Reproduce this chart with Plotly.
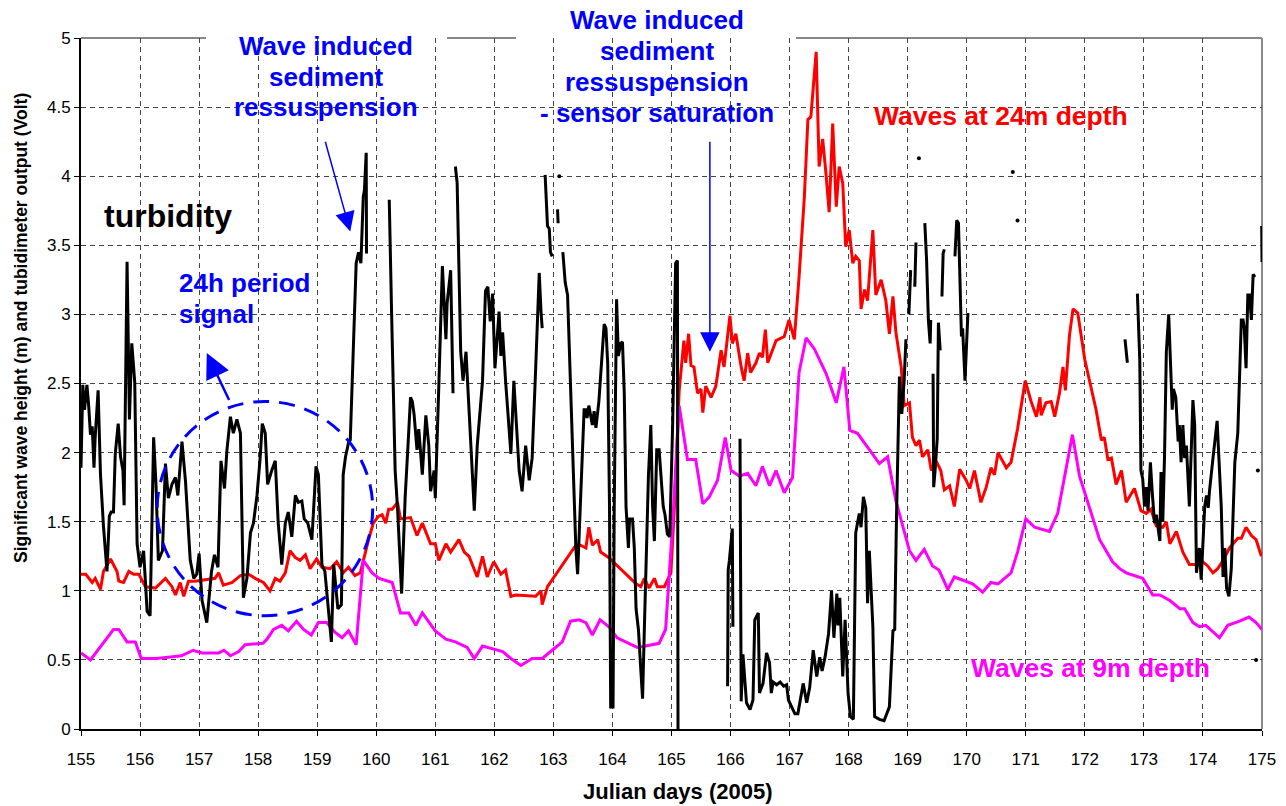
import plotly.graph_objects as go

# ---------------- data ----------------
wave9_day = [155.0, 155.16, 155.55, 155.64, 155.78, 155.92, 156.02, 156.26, 156.48, 156.7,
             156.9, 157.05, 157.33, 157.42, 157.53, 157.67, 157.78, 158.0, 158.08, 158.15,
             158.26, 158.4, 158.51, 158.65, 158.77, 158.9, 159.02, 159.16, 159.3, 159.42,
             159.53, 159.66, 159.78, 159.93, 160.05, 160.27, 160.41, 160.55, 160.67, 160.78,
             161.0, 161.18, 161.34, 161.54, 161.66, 161.8, 162.14, 162.28, 162.45, 162.64,
             162.81, 162.98, 163.15, 163.29, 163.44, 163.55, 163.66, 163.79, 163.94, 164.08,
             164.23, 164.42, 164.56, 164.79, 164.9, 165.02, 165.13, 165.27, 165.41, 165.53,
             165.64, 165.78, 165.91, 166.01, 166.15, 166.29, 166.43, 166.54, 166.66, 166.77,
             166.91, 167.05, 167.16, 167.28, 167.42, 167.62, 167.79, 167.92, 168.02, 168.15,
             168.32, 168.52, 168.66, 168.8, 169.03, 169.14, 169.28, 169.42, 169.53, 169.68,
             169.79, 170.1, 170.27, 170.41, 170.53, 170.75, 170.86, 171.0, 171.15, 171.4,
             171.54, 171.66, 171.79, 171.91, 172.05, 172.25, 172.47, 172.59, 172.7, 172.98,
             173.15, 173.27, 173.44, 173.61, 173.69, 173.83, 173.94, 174.05, 174.28, 174.42,
             174.62, 174.78, 174.9, 175.0]
wave9_m = [0.55, 0.50, 0.72, 0.72, 0.63, 0.63, 0.51, 0.51, 0.52, 0.53,
           0.57, 0.55, 0.55, 0.57, 0.53, 0.56, 0.61, 0.62, 0.62, 0.65,
           0.72, 0.75, 0.71, 0.78, 0.72, 0.68, 0.77, 0.77, 0.70, 0.66,
           0.71, 0.61, 1.22, 1.13, 1.09, 1.06, 0.84, 0.84, 0.75, 0.84,
           0.71, 0.65, 0.63, 0.59, 0.51, 0.60, 0.56, 0.51, 0.46, 0.51,
           0.51, 0.57, 0.63, 0.78, 0.79, 0.77, 0.68, 0.79, 0.74, 0.66,
           0.63, 0.59, 0.60, 0.62, 0.72, 1.49, 2.34, 1.95, 1.95, 1.63,
           1.68, 1.80, 2.11, 1.87, 1.83, 1.85, 1.76, 1.90, 1.76, 1.87,
           1.71, 1.82, 2.58, 2.83, 2.75, 2.57, 2.36, 2.62, 2.16, 2.14,
           2.04, 1.92, 1.97, 1.65, 1.29, 1.22, 1.30, 1.18, 1.15, 1.01,
           1.10, 1.05, 0.99, 1.06, 1.05, 1.13, 1.28, 1.52, 1.46, 1.43,
           1.56, 1.84, 2.13, 1.83, 1.64, 1.37, 1.21, 1.16, 1.13, 1.09,
           0.97, 0.97, 0.93, 0.87, 0.87, 0.77, 0.74, 0.75, 0.66, 0.75,
           0.78, 0.81, 0.77, 0.72]

wave24_day = [155.0, 155.08, 155.19, 155.24, 155.33, 155.38, 155.5, 155.61, 155.64, 155.72,
              155.81, 155.89, 155.98, 156.09, 156.26, 156.43, 156.54, 156.6, 156.68, 156.74,
              156.82, 156.93, 157.1, 157.27, 157.33, 157.41, 157.56, 157.7, 157.84, 157.95,
              158.09, 158.2, 158.29, 158.37, 158.46, 158.54, 158.63, 158.71, 158.8, 158.88,
              158.99, 159.08, 159.22, 159.33, 159.44, 159.53, 159.64, 159.73, 159.87, 159.95,
              160.04, 160.1, 160.16, 160.21, 160.27, 160.36, 160.41, 160.58, 160.69, 160.78,
              160.92, 161.0, 161.06, 161.18, 161.26, 161.4, 161.49, 161.57, 161.71, 161.8,
              161.88, 161.99, 162.11, 162.19, 162.28, 162.36, 162.7, 162.79, 162.81, 162.9,
              163.38, 163.46, 163.55, 163.6, 163.66, 163.75, 163.8, 163.94, 164.4, 164.48,
              164.54, 164.62, 164.71, 164.76, 164.88, 164.99, 165.05, 165.13, 165.21, 165.24,
              165.29, 165.33, 165.38, 165.44, 165.5, 165.53, 165.58, 165.67, 165.75, 165.84,
              165.89, 165.99, 166.03, 166.09, 166.18, 166.23, 166.29, 166.34, 166.43, 166.49,
              166.54, 166.59, 166.63, 166.77, 166.91, 166.99, 167.08, 167.16, 167.25, 167.31,
              167.36, 167.45, 167.5, 167.56, 167.62, 167.67, 167.73, 167.79, 167.84, 167.9,
              167.95, 168.01, 168.07, 168.12, 168.18, 168.21, 168.27, 168.32, 168.41, 168.46,
              168.55, 168.63, 168.69, 168.75, 168.8, 168.89, 168.94, 169.03, 169.08, 169.14,
              169.2, 169.25, 169.34, 169.4, 169.48, 169.56, 169.62, 169.71, 169.79, 169.88,
              169.99, 170.05, 170.13, 170.24, 170.33, 170.41, 170.47, 170.53, 170.58, 170.67,
              170.75, 170.86, 170.99, 171.09, 171.18, 171.24, 171.26, 171.34, 171.43, 171.49,
              171.57, 171.63, 171.67, 171.74, 171.8, 171.88, 172.0, 172.14, 172.19, 172.28,
              172.33, 172.39, 172.45, 172.53, 172.62, 172.7, 172.76, 172.84, 172.95, 173.04,
              173.12, 173.21, 173.32, 173.38, 173.44, 173.55, 173.66, 173.77, 173.89, 173.97,
              174.08, 174.17, 174.25, 174.34, 174.45, 174.51, 174.59, 174.65, 174.73, 174.82,
              174.9, 174.99]
wave24_m = [1.12, 1.12, 1.06, 1.09, 1.01, 1.14, 1.23, 1.14, 1.07, 1.06,
            1.14, 1.12, 1.12, 1.03, 1.02, 1.09, 1.03, 0.97, 1.06, 0.96,
            1.07, 1.07, 1.08, 1.09, 1.13, 1.04, 1.06, 1.11, 1.12, 1.09,
            1.06, 1.00, 1.09, 1.07, 1.13, 1.29, 1.24, 1.22, 1.26, 1.16,
            1.23, 1.17, 1.16, 1.21, 1.13, 1.17, 1.11, 1.13, 1.37, 1.49,
            1.54, 1.55, 1.49, 1.59, 1.59, 1.64, 1.52, 1.53, 1.40, 1.49,
            1.34, 1.34, 1.22, 1.34, 1.28, 1.37, 1.28, 1.25, 1.10, 1.25,
            1.10, 1.21, 1.12, 1.15, 0.96, 0.97, 0.96, 1.00, 0.90, 1.03,
            1.33, 1.33, 1.31, 1.46, 1.33, 1.37, 1.28, 1.24, 1.05, 1.03,
            1.09, 1.02, 1.09, 1.03, 1.03, 1.13, 1.61, 2.45, 2.81, 2.65,
            2.86, 2.63, 2.62, 2.43, 2.46, 2.29, 2.48, 2.40, 2.48, 2.74,
            2.62, 2.99, 2.79, 2.86, 2.62, 2.52, 2.72, 2.58, 2.65, 2.72,
            2.69, 2.89, 2.65, 2.81, 2.84, 2.96, 2.82, 3.27, 3.85, 4.41,
            4.43, 4.90, 4.07, 4.27, 4.00, 3.74, 4.38, 3.78, 4.07, 3.95,
            3.49, 3.61, 3.37, 3.42, 3.39, 3.04, 3.18, 3.10, 3.61, 3.14,
            3.25, 3.10, 2.86, 3.13, 2.87, 2.62, 2.34, 2.36, 2.11, 2.05,
            2.09, 1.97, 2.02, 1.87, 1.94, 1.87, 1.73, 1.76, 1.61, 1.88,
            1.80, 1.74, 1.87, 1.64, 1.75, 1.89, 1.84, 2.00, 1.96, 1.89,
            1.93, 2.17, 2.52, 2.37, 2.26, 2.40, 2.27, 2.36, 2.37, 2.26,
            2.43, 2.62, 2.45, 2.85, 3.04, 3.01, 2.67, 2.40, 2.31, 2.09,
            2.11, 1.95, 1.96, 1.77, 1.87, 1.64, 1.68, 1.74, 1.58, 1.56,
            1.59, 1.47, 1.46, 1.50, 1.34, 1.43, 1.28, 1.19, 1.19, 1.22,
            1.18, 1.13, 1.16, 1.22, 1.31, 1.34, 1.38, 1.38, 1.46, 1.40,
            1.37, 1.25]

# turbidimeter output (Volt); None marks missing data
turb_day = [155.0, 155.03, 155.06, 155.1, 155.13, 155.16, 155.19, 155.22, 155.24, 155.29,
            155.33, 155.38, 155.44, 155.48, 155.51, 155.55, 155.58, 155.63, 155.67, 155.71,
            155.73, 155.78, 155.82, 155.86, 155.91, 155.95, 156.0, 156.06, 156.12, 156.17,
            156.23, 156.27, 156.31, 156.38, 156.43, 156.48, 156.54, 156.6, 156.64, 156.71,
            156.77, 156.85, 156.91, 156.96, 157.0, 157.05, 157.13, 157.21, 157.26, 157.32,
            157.37, 157.43, 157.47, 157.53, 157.58, 157.64, 157.7, 157.75, 157.81, 157.87,
            157.92, 157.98, 158.03, 158.07, 158.12, 158.16, 158.23, 158.29, 158.34, 158.4,
            158.46, 158.51, 158.57, 158.63, 158.68, 158.74, 158.78, 158.84, 158.91, 158.98,
            159.02, 159.08, 159.13, 159.18, 159.24, 159.28, 159.35, 159.41, 159.44, 159.48,
            159.53, 159.56, 159.61, 159.66, 159.7, 159.74, 159.78, 159.8, 159.83, 159.835, None,
            160.22, 160.24, 160.26, 160.32, 160.36, 160.43, 160.49, 160.54, 160.58, 160.61,
            160.64, 160.69, 160.72, 160.78, 160.84, 160.89, 160.92, 160.98, 161.0, 161.06,
            161.12, 161.18, 161.2, 161.26, 161.3, None,
            161.34, 161.37, 161.43, 161.47, 161.52, 161.57, 161.63, 161.66, 161.71, 161.8,
            161.85, 161.89, 161.93, 161.97, 162.01, 162.05, 162.08, 162.11, 162.14, 162.19,
            162.28, 162.33, 162.39, 162.42, 162.47, 162.53, 162.59, 162.64, 162.7, 162.76,
            162.79, 162.81, None,
            162.86, 162.9, 162.93, 162.95, 162.98, None,
            163.07, 163.08, None,
            163.16, 163.2, 163.24, 163.28, 163.32, 163.38, 163.41, 163.46, 163.52, 163.55,
            163.57, 163.6, 163.66, 163.69, 163.72, 163.77, 163.82, 163.86, 163.89, 163.92,
            163.95, 163.97, 164.01, 164.03, 164.07, 164.1, 164.14, 164.17, 164.2, 164.23,
            164.27, 164.29, 164.34, 164.37, 164.4, 164.44, 164.48, 164.51, 164.54, 164.58,
            164.61, 164.65, 164.68, 164.71, 164.75, 164.79, 164.82, 164.86, 164.89, 164.93,
            164.97, 165.02, 165.07, 165.1, 165.11, None,
            165.95, 165.96, 165.98, 166.03, 166.04, None,
            166.16, 166.18, 166.21, 166.27, 166.33, 166.38, 166.41, 166.47, 166.49, 166.55,
            166.61, 166.66, 166.69, 166.72, 166.78, 166.84, 166.9, 166.95, 166.98, 167.03,
            167.09, 167.14, 167.23, 167.29, 167.34, 167.4, 167.46, 167.51, 167.55, 167.6,
            167.66, 167.71, 167.75, 167.8, 167.82, 167.85, 167.9, 167.94, 167.96, 167.99,
            168.03, 168.08, 168.12, 168.15, 168.18, 168.21, 168.25, 168.29, 168.32, 168.35,
            168.38, 168.41, 168.44, 168.52, 168.6, 168.69, 168.75, 168.78, 168.81, 168.86,
            168.9, 168.94, 168.97, None,
            169.02, 169.05, None,
            169.12, 169.14, None,
            169.29, 169.32, 169.35, 169.38, 169.39, None,
            169.43, 169.44, 169.46, 169.5, 169.52, 169.55, None,
            169.58, 169.6, 169.62, None,
            169.8, 169.83, 169.86, 169.91, 169.93, 169.97, 170.02, None,
            172.68, 172.72, None,
            172.89, 172.93, 172.95, 172.98, 173.01, 173.04, 173.07, 173.11, 173.14, 173.18,
            173.21, 173.24, 173.27, 173.29, 173.32, 173.35, 173.38, 173.42, 173.45, 173.48,
            173.5, 173.54, 173.58, 173.6, 173.63, 173.66, 173.69, 173.72, 173.77, 173.83,
            173.86, 173.89, 173.94, 173.97, 174.03, 174.06, 174.09, 174.11, 174.17, 174.2,
            174.24, 174.27, 174.31, 174.34, 174.37, 174.4, 174.44, 174.48, 174.54, 174.59,
            174.62, 174.65, 174.68, 174.7, 174.73, 174.76, 174.79, 174.82, 174.85, 174.88, None,
            174.995, 175.0]
turb_volt = [1.89, 2.49, 2.31, 2.49, 2.34, 2.13, 2.19, 1.89, 2.11, 2.45,
             1.84, 1.47, 1.14, 1.54, 1.57, 1.57, 1.99, 2.21, 1.97, 1.87,
             1.62, 3.38, 2.24, 2.79, 2.51, 1.34, 1.17, 1.29, 0.85, 0.82,
             2.11, 1.77, 1.22, 1.29, 1.92, 1.67, 1.77, 1.82, 1.69, 2.08,
             1.79, 1.22, 1.09, 1.12, 1.27, 0.93, 0.77, 1.14, 1.26, 1.17,
             1.94, 1.74, 2.01, 2.26, 2.14, 2.24, 2.14, 0.95, 1.09, 1.42,
             1.49, 1.69, 1.94, 2.21, 2.14, 1.77, 1.87, 1.94, 1.49, 1.19,
             1.49, 1.57, 1.39, 1.69, 1.64, 1.65, 1.52, 1.49, 1.37, 1.90,
             1.84, 1.19, 1.14, 0.90, 0.63, 1.19, 0.87, 0.90, 1.84, 1.97,
             2.07, 2.09, 2.77, 3.37, 3.45, 3.37, 3.85, 3.90, 4.17, 3.44, None,
             3.83, 3.32, 3.01, 1.87, 1.60, 0.98, 1.68, 2.07, 2.40, 2.37,
             2.28, 2.02, 2.17, 1.84, 2.27, 2.05, 1.72, 1.87, 1.67, 2.49,
             3.35, 2.82, 3.08, 3.32, 2.43, None,
             4.07, 3.95, 2.73, 2.52, 2.73, 2.28, 1.75, 1.58, 2.05, 2.52,
             3.17, 3.20, 2.95, 3.15, 2.61, 2.82, 3.02, 2.70, 2.87, 2.52,
             1.99, 2.52, 2.14, 1.87, 1.72, 2.05, 1.80, 1.96, 2.61, 3.30,
             3.02, 2.90, None,
             4.01, 3.64, 3.62, 3.45, 3.42, None,
             3.76, 3.66, None,
             3.45, 3.23, 3.14, 2.64, 1.99, 1.31, 1.12, 1.61, 2.31, 2.31,
             2.25, 2.34, 2.20, 2.30, 2.18, 2.37, 2.70, 2.93, 2.90, 2.64,
             1.61, 0.16, 0.16, 1.61, 3.11, 2.70, 2.79, 2.80, 2.43, 1.61,
             1.31, 1.52, 1.52, 1.31, 0.87, 0.72, 0.43, 0.22, 0.72, 1.46,
             1.84, 2.20, 1.61, 1.36, 2.02, 2.02, 1.84, 1.61, 1.55, 1.41,
             1.39, 2.21, 3.37, 3.39, 0.0, None,
             0.31, 1.15, 1.22, 1.45, 0.74, None,
             2.10, 0.20, 0.54, 0.19, 0.14, 0.21, 0.79, 0.84, 0.26, 0.33,
             0.55, 0.48, 0.26, 0.34, 0.32, 0.34, 0.31, 0.32, 0.21, 0.16,
             0.11, 0.11, 0.33, 0.19, 0.30, 0.57, 0.38, 0.52, 0.42, 0.52,
             0.69, 1.00, 0.66, 0.98, 0.75, 0.95, 0.38, 0.79, 0.60, 0.26,
             0.09, 0.07, 1.42, 1.49, 1.56, 1.46, 1.68, 1.60, 0.91, 1.29,
             1.01, 0.74, 0.09, 0.07, 0.06, 0.16, 0.71, 0.72, 1.53, 2.55,
             2.28, 2.52, 2.82, None,
             3.00, 3.32, None,
             3.20, 3.52, None,
             3.66, 3.39, 2.96, 2.79, 2.96, None,
             2.57, 1.75, 1.85, 2.10, 2.94, 2.74, None,
             3.13, 3.44, 3.47, None,
             3.42, 3.68, 3.66, 2.84, 2.90, 2.52, 3.01, None,
             2.82, 2.65, None,
             3.15, 2.67, 1.87, 1.81, 1.61, 1.75, 1.58, 1.93, 1.72, 1.49,
             1.55, 1.46, 1.36, 1.86, 1.50, 1.99, 2.73, 3.00, 2.64, 2.31,
             2.46, 2.40, 2.08, 2.20, 1.93, 2.20, 1.96, 2.05, 1.61, 2.38,
             2.20, 1.13, 1.31, 1.08, 1.61, 1.69, 1.60, 1.72, 1.96, 2.08,
             2.23, 1.96, 1.61, 1.10, 1.31, 1.02, 0.96, 1.16, 1.93, 2.14,
             2.52, 2.96, 2.96, 2.90, 2.61, 3.14, 3.14, 2.96, 3.29, 3.27, None,
             3.64, 3.38]

# isolated single turbidity readings
turb_dot_day = [163.10, 169.19, 170.78, 170.86, 174.93, 174.90]
turb_dot_volt = [4.00, 4.13, 4.03, 3.68, 1.87, 0.50]

x_ticks = list(range(155, 176))
x_tick_labels = [str(d) for d in x_ticks]

# ---------------- figure ----------------
FONT = "Liberation Sans, Arial, sans-serif"
L, R, T, B = 81, 1262, 38, 729
W, H = 1286, 806


def pxx(p):
    return (p - L) / (R - L)


def pxy(p):
    return (B - p) / (B - T)


fig = go.Figure()
fig.add_trace(go.Scatter(x=wave24_day, y=wave24_m, mode="lines",
                         line=dict(color="#FF0000", width=3), name="Waves at 24m depth"))
fig.add_trace(go.Scatter(x=wave9_day, y=wave9_m, mode="lines",
                         line=dict(color="#FF00FF", width=3), name="Waves at 9m depth"))
fig.add_trace(go.Scatter(x=turb_day, y=turb_volt, mode="lines", connectgaps=False,
                         line=dict(color="#000000", width=3), name="turbidity"))
fig.add_trace(go.Scatter(x=turb_dot_day, y=turb_dot_volt, mode="markers",
                         marker=dict(color="#000000", size=4), name="turbidity (single)"))


def mask(x0, x1, y0, y1):
    return dict(type="rect", xref="paper", yref="paper", x0=pxx(x0), x1=pxx(x1),
                y0=pxy(y1), y1=pxy(y0), fillcolor="white", line=dict(width=0),
                layer="between")


shapes = [
    # grey top / right frame
    dict(type="line", xref="paper", yref="paper", x0=0, x1=1, y0=1, y1=1,
         line=dict(color="#888888", width=2), layer="between"),
    dict(type="line", xref="paper", yref="paper", x0=1, x1=1, y0=0, y1=1,
         line=dict(color="#888888", width=2), layer="between"),
    # white text boxes (hide grid and frame only)
    mask(206, 447, 28, 130),
    mask(516, 796, 28, 136),
    mask(850, 1158, 90, 137),
    mask(966, 1212, 645, 692),
    mask(100, 343, 262, 343),
    # dashed ellipse
    dict(type="circle", xref="x", yref="y", x0=156.29, x1=159.94, y0=0.82, y1=2.37,
         line=dict(color="#0000FF", width=3, dash="16px,10px"), layer="above"),
]

blue = "#0000FF"
ann = []


def label(text, x, y, size, color, xanchor="center"):
    ann.append(dict(text="<b>%s</b>" % text, xref="paper", yref="paper", x=pxx(x), y=pxy(y),
                    xanchor=xanchor, yanchor="middle", showarrow=False,
                    font=dict(family=FONT, size=size, color=color)))


for t, yy in zip(["Wave induced", "sediment", "ressuspension"], [46, 77, 107]):
    label(t, 326, yy, 26, blue)
for t, yy in zip(["Wave induced", "sediment", "ressuspension", "- sensor saturation"],
                 [20, 51, 82, 113]):
    label(t, 657, yy, 26, blue)
label("Waves at 24m depth", 1001, 116, 26.5, "#FF0000")
label("Waves at 9m depth", 1090, 668, 26.5, "#FF00FF")
label("turbidity", 168, 216, 32, "black")
label("24h period", 177, 283, 26, blue, xanchor="left")
label("signal", 177, 314, 26, blue, xanchor="left")

# arrows
ann += [
    dict(text="", x=157.13, y=2.72, ax=157.52, ay=2.37, xref="x", yref="y", axref="x", ayref="y",
         showarrow=True, arrowhead=2, arrowsize=2.0, arrowwidth=2.5, arrowcolor=blue),
    dict(text="", x=159.56, y=3.60, ax=159.13, ay=4.26, xref="x", yref="y", axref="x", ayref="y",
         showarrow=True, arrowhead=2, arrowsize=2.6, arrowwidth=1.5, arrowcolor=blue),
    dict(text="", x=165.65, y=2.73, ax=165.65, ay=4.26, xref="x", yref="y", axref="x", ayref="y",
         showarrow=True, arrowhead=2, arrowsize=2.6, arrowwidth=1.5, arrowcolor=blue),
    # axis titles
    dict(text="<b>Significant wave height (m) and tubidimeter output (Volt)</b>",
         xref="paper", yref="paper", x=pxx(21), y=pxy(328), xanchor="center", yanchor="middle",
         textangle=-90, showarrow=False, font=dict(family=FONT, size=17.5, color="black")),
    dict(text="<b>Julian days (2005)</b>", xref="paper", yref="paper", x=pxx(678), y=pxy(792),
         xanchor="center", yanchor="middle", showarrow=False,
         font=dict(family=FONT, size=22, color="black")),
]

fig.update_layout(
    width=W, height=H,
    margin=dict(l=L, r=W - R, t=T, b=H - B, autoexpand=False),
    paper_bgcolor="white", plot_bgcolor="white",
    showlegend=False,
    font=dict(family=FONT, color="black"),
    shapes=shapes, annotations=ann,
    xaxis=dict(range=[155, 175], tickmode="array", tickvals=x_ticks, ticktext=x_tick_labels,
               automargin=False,
               showgrid=True, gridcolor="#444444", gridwidth=1, griddash="5px,4px",
               zeroline=False, showline=True, linecolor="black", linewidth=2,
               ticks="outside", ticklen=5, tickcolor="black", tickwidth=1,
               tickfont=dict(family=FONT, size=17, color="black"), ticklabelstandoff=9),
    yaxis=dict(range=[0, 5], tick0=0, dtick=0.5, automargin=False,
               showgrid=True, gridcolor="#444444", gridwidth=1, griddash="5px,4px",
               zeroline=False, showline=True, linecolor="black", linewidth=2,
               ticks="outside", ticklen=5, tickcolor="black", tickwidth=1,
               tickfont=dict(family=FONT, size=17, color="black")),
)

fig.write_html("out.html", config={"displayModeBar": False},
               post_script="document.body.style.margin='0';")
